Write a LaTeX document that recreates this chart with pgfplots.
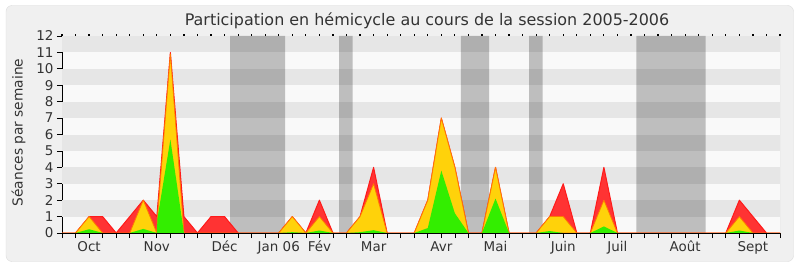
\documentclass[border=0pt]{standalone}
\usepackage{pgfplots}
\pgfplotsset{compat=1.18}
\usepackage{fontspec}
\setmainfont{DejaVu Sans}
\definecolor{frameBG}{HTML}{F0F0F0}
\definecolor{frameLine}{HTML}{DCDCDC}
\definecolor{stripeL}{HTML}{F9F9F9}
\definecolor{stripeD}{HTML}{E6E6E6}
\definecolor{redF}{HTML}{FF3333}
\definecolor{redE}{HTML}{FF1A1A}
\definecolor{yelF}{HTML}{FFD20A}
\definecolor{yelE}{HTML}{FF7A00}
\definecolor{grnF}{HTML}{33EE00}
\definecolor{txt}{HTML}{333333}

\pgfplotstableread{
x y
0 0
1 0
2 1
3 1
4 0
5 1
6 2
7 1
8 11
9 1
10 0
11 1
12 1
13 0
16 0
17 1
18 0
19 2
20 0
21 0
22 1
23 4
24 0
26 0
27 2
28 7
29 4
30 0
31 0
32 4
33 0
35 0
36 1
37 3
38 0
39 0
40 4
41 0
49 0
50 2
51 1
52 0
53 0
}\redtab

\pgfplotstableread{
x y
0 0
1 0
2 1
3 0
5 0
6 2
7 0
7.05 1
8 10.9
9 0
16 0
17 1
18 0
19 1
20 0
21 0
22 1
23 3
24 0
26 0
27 2
28 7
29 4
30 0
31 0
32 4
33 0
35 0
36 1
37 1
38 0
39 0
40 2
41 0
49 0
50 1
51 0
53 0
}\yeltab

\pgfplotstableread{
x y
0 0
1 0
2 0.23
3 0
5 0
6 0.25
7 0
7.05 0.9
8 5.7
9 0
16 0
17 0.05
18 0
19 0.15
20 0
21 0
22 0.05
23 0.17
24 0
26 0
27 0.3
28 3.8
29 1.2
30 0
31 0
32 2.1
33 0
35 0
36 0.12
37 0
39 0
40 0.4
41 0
49 0
50 0.15
51 0
53 0
}\grntab

\begin{document}
\begin{tikzpicture}[x=1bp,y=1bp]
\path[use as bounding box] (0,0) rectangle (800,267);
\fill[white] (0,0) rectangle (800,267);
\draw[draw=frameLine, fill=frameBG, rounded corners=6bp] (6,5.5) rectangle (793.5,261.5);

\node[anchor=base, text=txt, font=\fontsize{16}{19}\selectfont] at (427,242) {Participation en hémicycle au cours de la session 2005-2006};
\node[rotate=90, anchor=center, text=txt, font=\fontsize{13.8}{16}\selectfont] at (18.5,134.5) {Séances par semaine};

\begin{axis}[at={(62bp,34bp)}, anchor=south west, scale only axis,
  width=718bp, height=197bp,
  xmin=0, xmax=53, ymin=0, ymax=12,
  axis background/.style={fill=stripeL},
  axis x line*=bottom, axis y line*=left,
  axis line style={-, draw=black, line width=0.8bp},
  tick align=outside,
  major tick length=5bp,
  tick style={black, line width=0.7bp},
  xtick={0,...,53}, xticklabels={},
  extra x ticks={2,7,12,16,19,23,28,32,37,41,46,51},
  extra x tick labels={Oct,Nov,Déc,Jan 06,Fév,Mar,Avr,Mai,Juin,Juil,Août,Sept},
  extra x tick style={major tick length=0pt},
  xticklabel style={anchor=base, yshift=-18bp, text=txt, font=\fontsize{13.5}{16}\selectfont},
  ytick={0,...,12},
  yticklabel style={text=txt, font=\fontsize{13.5}{16}\selectfont},
  /pgf/number format/assume math mode=true,
  clip=true,
]
% background stripes
\pgfplotsinvokeforeach{1,3,5,7,9,11}{
  \fill[stripeD] (axis cs:0,#1) rectangle (axis cs:53,#1+1);
}
% vacation bands
\addplot[draw=none, fill=black, fill opacity=0.235] coordinates {(12.41,0)(12.41,12)(16.47,12)(16.47,0)} \closedcycle;
\addplot[draw=none, fill=black, fill opacity=0.235] coordinates {(20.45,0)(20.45,12)(21.46,12)(21.46,0)} \closedcycle;
\addplot[draw=none, fill=black, fill opacity=0.235] coordinates {(29.45,0)(29.45,12)(31.52,12)(31.52,0)} \closedcycle;
\addplot[draw=none, fill=black, fill opacity=0.235] coordinates {(34.48,0)(34.48,12)(35.47,12)(35.47,0)} \closedcycle;
\addplot[draw=none, fill=black, fill opacity=0.235] coordinates {(42.4,0)(42.4,12)(47.5,12)(47.5,0)} \closedcycle;
% data
\addplot[fill=redF, draw=redE, line width=1bp, line join=round] table {\redtab} \closedcycle;
\addplot[fill=yelF, draw=yelE, line width=0.8bp, line join=round] table {\yeltab} \closedcycle;
\addplot[fill=grnF, draw=none] table {\grntab} \closedcycle;
\draw[black!18, line width=0.8bp] (axis cs:53,0) -- (axis cs:53,12);
\draw[black, line width=0.8bp] (axis cs:0,0) -- (axis cs:53,0);
\end{axis}

\begin{axis}[at={(62bp,34bp)}, anchor=south west, scale only axis,
  width=718bp, height=197bp,
  xmin=0, xmax=53, ymin=0, ymax=12,
  axis x line*=top, axis y line=none,
  axis line style={draw=none},
  tick align=outside, major tick length=1.6bp,
  tick style={black, line width=1.2bp},
  xtick={0,...,53}, xticklabels={},
]
\end{axis}
\end{tikzpicture}
\end{document}
